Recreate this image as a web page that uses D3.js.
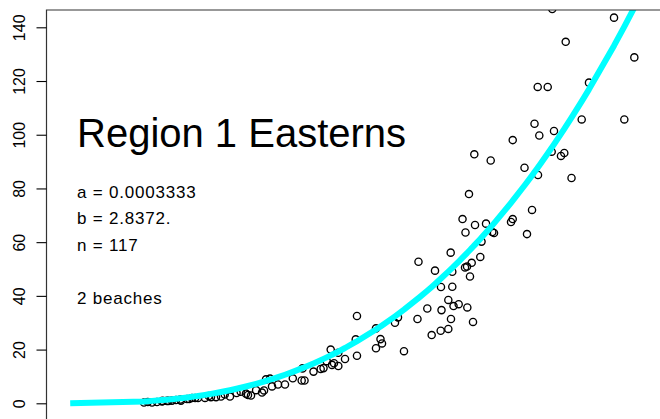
<!DOCTYPE html>
<html>
<head>
<meta charset="utf-8">
<script src="https://cdn.jsdelivr.net/npm/d3@7"></script>
<style>
  html, body { margin: 0; padding: 0; background: #fff; }
  svg { display: block; }
  text { font-family: "Liberation Sans", Arial, Helvetica, sans-serif; fill: #000; }
</style>
</head>
<body>
<svg id="chart" width="660" height="419"></svg>
<script>
// ---- data ----
const lengthVals = [
  14.86,16.22,17.06,17.91,18.75,19.59,20.27,21.11,22.13,22.97,
  23.99,25.17,26.18,27.03,27.87,29.39,32.09,32.43,32.94,34.80,
  35.14,35.47,36.15,36.49,38.68,41.50,41.98,41.64,44.71,45.19,
  45.73,46.40,46.62,46.96,47.69,47.69,48.82,50.63,50.84,50.84,
  54.05,54.05,54.81,55.07,57.26,57.77,58.78,61.06,61.23,62.72,
  63.46,64.02,64.98,65.12,65.03,66.27,66.27,66.67,66.72,66.94,
  66.94,67.15,68.02,68.67,69.17,69.09,69.43,69.48,69.76,69.93,
  70.22,70.44,70.66,70.78,71.67,71.88,72.64,73.43,73.70,73.99,
  76.86,77.15,77.15,79.14,79.56,80.41,80.83,81.37,81.42,81.64,
  83.06,83.73,84.12,85.30,85.86,86.10,87.08,88.80,90.03,94.26,
  96.00,97.69,83.83,
  15.5,18.0,19.0,21.0,22.5,23.5,25.8,28.5,30.5,31.2,33.8,37.5,40.0,43.5
];
const weightVals = [
  0.3,0.3,0.5,0.7,0.9,1.0,1.2,1.0,1.6,2.0,
  2.0,2.0,2.3,2.3,2.5,2.5,3.6,3.1,2.9,4.0,
  4.8,8.9,9.2,6.3,7.0,8.5,8.5,13.0,12.8,13.1,
  15.7,20.0,14.3,14.9,13.9,18.8,16.5,23.8,32.5,17.7,
  27.9,20.5,23.9,22.3,30.0,32.0,19.4,31.4,52.7,35.3,
  25.4,49.4,27.0,34.7,43.3,38.5,27.7,56.1,31.4,49.0,
  43.4,36.2,36.9,68.6,63.6,50.6,50.9,35.7,77.9,47.2,
  52.3,30.3,92.7,66.4,54.5,60.2,66.9,90.4,63.8,63.4,
  67.5,68.6,98.0,87.7,63.0,72.0,104.1,117.8,85.0,99.7,
  117.8,93.7,101.4,92.1,93.2,134.6,83.9,105.7,119.4,143.6,
  105.7,128.8,146.8,
  0.5,0.9,0.9,1.4,1.6,2.0,2.7,3.3,3.8,4.3,4.9,7.0,9.3,11.8
];
const yTickVals = [0, 20, 40, 60, 80, 100, 120, 140];
const fitA = 0.0003333;
const fitB = 2.8372;
const curveStart = 2.4;
const titleText = "Region 1 Easterns";
const noteLines = ["a = 0.0003333", "b = 2.8372.", "n = 117", "2 beaches"];

// ---- layout ----
const svg = d3.select("#chart");
const plot = { left: 46.5, top: 10, right: 700, bottom: 460 };

const x = d3.scaleLinear().domain([0, 100]).range([56, 648]);
const y = d3.scaleLinear().domain([0, 140]).range([403.3, 27.3]);

svg.append("defs").append("clipPath").attr("id", "clip")
  .append("rect")
  .attr("x", plot.left).attr("y", plot.top)
  .attr("width", plot.right - plot.left).attr("height", plot.bottom - plot.top);

const g = svg.append("g").attr("clip-path", "url(#clip)");

// points
g.selectAll("circle.pt")
  .data(d3.range(lengthVals.length))
  .join("circle")
  .attr("class", "pt")
  .attr("cx", i => x(lengthVals[i]))
  .attr("cy", i => y(weightVals[i]))
  .attr("r", 3.6)
  .attr("fill", "none")
  .attr("stroke", "#000")
  .attr("stroke-width", 1.35);

// fitted curve through sorted lengths
const curveX = [curveStart].concat(Array.from(new Set(lengthVals)).sort((a, b) => a - b));
const curvePts = curveX.map(v => [v, fitA * Math.pow(v, fitB)]);
g.append("path")
  .datum(curvePts)
  .attr("fill", "none")
  .attr("stroke", "#00FFFF")
  .attr("stroke-width", 6)
  .attr("stroke-linejoin", "round")
  .attr("d", d3.line().x(d => x(d[0])).y(d => y(d[1])));

// frame (left and top visible)
svg.append("path")
  .attr("d", `M${plot.left},${plot.bottom} V${plot.top} H${plot.right}`)
  .attr("fill", "none")
  .attr("stroke", "#333")
  .attr("stroke-width", 1.2);

// y axis
const yAxis = d3.axisLeft(y).tickValues(yTickVals).tickSize(10).tickPadding(0).tickFormat(d3.format("d"));
const ax = svg.append("g").attr("transform", `translate(${plot.left},0)`).call(yAxis);
ax.select(".domain").remove();
ax.selectAll(".tick line").attr("stroke", "#000").attr("stroke-width", 1.1);
ax.selectAll(".tick text")
  .attr("x", 0).attr("dy", null).attr("dx", null)
  .attr("text-anchor", "middle")
  .attr("transform", "translate(-22,0) rotate(-90)")
  .attr("y", 0)
  .style("font-size", "16px")
  .style("font-family", "'Liberation Sans', Arial, sans-serif")
  .attr("fill", "#000");

// annotations
svg.append("text")
  .attr("x", 77).attr("y", 146.7)
  .style("font-size", "40px")
  .text(titleText);

const noteY = [197.5, 224, 250.5, 304];
svg.selectAll("text.note")
  .data(noteLines)
  .join("text")
  .attr("class", "note")
  .attr("x", 77)
  .attr("y", (d, i) => noteY[i])
  .style("font-size", "17px")
  .style("letter-spacing", "0.8px")
  .text(d => d);
</script>
</body>
</html>
